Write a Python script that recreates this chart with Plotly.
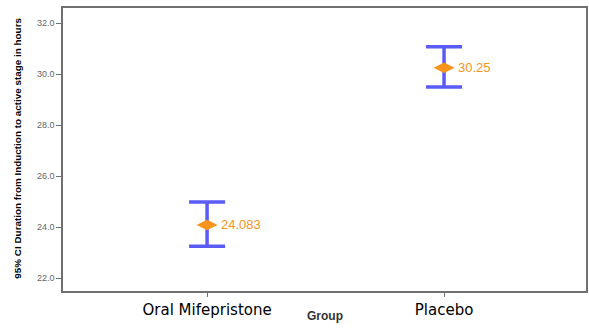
import plotly.graph_objects as go

groups = ["Oral Mifepristone", "Placebo"]
means = [24.083, 30.25]
ci_lower = [23.25, 29.5]
ci_upper = [24.98, 31.08]
mean_labels = ["24.083", "30.25"]
y_ticks = [22.0, 24.0, 26.0, 28.0, 30.0, 32.0]

err_plus = [u - m for u, m in zip(ci_upper, means)]
err_minus = [m - l for m, l in zip(means, ci_lower)]

fig = go.Figure()
fig.add_trace(go.Scatter(
    x=groups, y=means, mode="markers",
    marker=dict(symbol="diamond-wide", size=15, color="#F7941D"),
    error_y=dict(type="data", symmetric=False, array=err_plus, arrayminus=err_minus,
                 color="#5B5BF5", thickness=3.5, width=18),
    showlegend=False,
))
for g, m, lab in zip(groups, means, mean_labels):
    fig.add_annotation(x=g, y=m, text=lab, showarrow=False, xanchor="left",
                       xshift=12, font=dict(family="Liberation Sans, Arial", size=13, color="#F7941D"))

# axis titles as annotations
fig.add_annotation(xref="paper", yref="paper", x=0.5, y=0, yshift=-25, yanchor="middle",
                   text="<b>Group</b>", showarrow=False,
                   font=dict(family="Liberation Sans, Arial", size=12, color="#333"))
fig.add_annotation(xref="paper", yref="paper", x=0, xshift=-45, y=0.503, xanchor="center", yanchor="middle",
                   textangle=-90, text="<b>95% CI Duration from Induction to active stage in hours</b>",
                   showarrow=False, font=dict(family="Liberation Sans, Arial", size=9.9, color="black"))

fig.update_layout(
    width=589, height=330,
    margin=dict(l=63, r=3, t=8, b=39, autoexpand=False),
    paper_bgcolor="white", plot_bgcolor="white",
    font=dict(family="Liberation Sans, Arial", color="black"),
)
fig.update_xaxes(
    type="category", range=[-0.608, 1.599], automargin=False,
    showline=True, mirror=True, linecolor="#707070", linewidth=1.5,
    ticks="outside", ticklen=4, tickcolor="#707070", showgrid=False,
    tickfont=dict(family="DejaVu Sans", size=15, color="black"),
)
fig.update_yaxes(
    range=[21.49, 32.6], tickvals=y_ticks, tickformat=".1f", automargin=False,
    showline=True, mirror=True, linecolor="#707070", linewidth=1.5,
    ticks="outside", ticklen=5, tickcolor="#707070", showgrid=False, zeroline=False,
    tickfont=dict(family="Liberation Sans, Arial", size=9, color="#666"),
)
fig.write_html("out.html", config={"displayModeBar": False},
               post_script="document.body.style.margin='0';document.body.style.overflow='hidden';")
